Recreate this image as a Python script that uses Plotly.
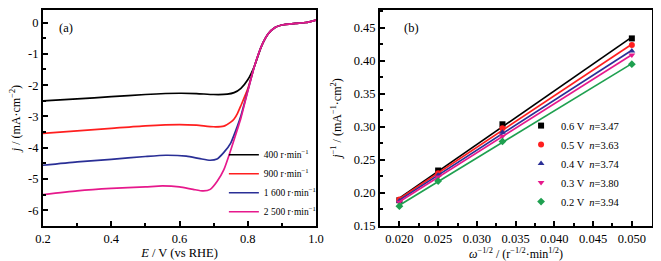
import numpy as np
import plotly.graph_objects as go

# ---------------- Panel (a): LSV curves ----------------
E_400 = [0.20, 0.30, 0.40, 0.50, 0.60, 0.65, 0.70, 0.74, 0.76, 0.78, 0.80, 0.82, 0.84, 0.86, 0.88, 0.90, 0.94, 0.97, 1.00]
j_400 = [-2.50, -2.44, -2.37, -2.30, -2.26, -2.27, -2.30, -2.29, -2.24, -2.10, -1.83, -1.38, -0.76, -0.36, -0.16, -0.08, -0.03, 0.00, 0.08]

E_900 = [0.20, 0.30, 0.40, 0.50, 0.60, 0.65, 0.70, 0.73, 0.75, 0.76, 0.77, 0.78, 0.80, 0.82, 0.84, 0.86, 0.88, 0.90, 0.94, 0.97, 1.00]
j_900 = [-3.54, -3.46, -3.38, -3.30, -3.26, -3.28, -3.33, -3.31, -3.18, -3.08, -2.90, -2.65, -2.12, -1.38, -0.76, -0.36, -0.16, -0.08, -0.03, 0.00, 0.08]

E_1600 = [0.20, 0.30, 0.40, 0.50, 0.56, 0.62, 0.66, 0.69, 0.71, 0.73, 0.75, 0.77, 0.78, 0.80, 0.82, 0.84, 0.86, 0.88, 0.90, 0.94, 0.97, 1.00]
j_1600 = [-4.56, -4.45, -4.37, -4.28, -4.24, -4.27, -4.35, -4.40, -4.36, -4.15, -3.85, -3.30, -2.98, -2.18, -1.38, -0.76, -0.36, -0.16, -0.08, -0.03, 0.00, 0.08]

E_2500 = [0.20, 0.30, 0.40, 0.50, 0.55, 0.60, 0.64, 0.67, 0.69, 0.71, 0.73, 0.75, 0.77, 0.78, 0.80, 0.82, 0.84, 0.86, 0.88, 0.90, 0.94, 0.97, 1.00]
j_2500 = [-5.50, -5.38, -5.30, -5.25, -5.22, -5.25, -5.33, -5.38, -5.33, -5.08, -4.70, -4.08, -3.40, -3.05, -2.20, -1.38, -0.76, -0.36, -0.16, -0.08, -0.03, 0.00, 0.08]

lsv_names = ["400 r·min<sup>−1</sup>", "900 r·min<sup>−1</sup>", "1 600 r·min<sup>−1</sup>", "2 500 r·min<sup>−1</sup>"]
lsv_colors = ["#000000", "#ff1f1f", "#2a2f96", "#e6198c"]

a_yticks = [0, -1, -2, -3, -4, -5, -6]
a_yticklabels = ["0", "-1", "-2", "-3", "-4", "-5", "-6"]

# ---------------- Panel (b): K-L plots ----------------
omega_inv_sqrt = [0.020, 0.025, 0.0333, 0.050]
kl_06 = [0.189, 0.234, 0.304, 0.434]
kl_05 = [0.190, 0.230, 0.298, 0.424]
kl_04 = [0.188, 0.227, 0.292, 0.415]
kl_03 = [0.186, 0.224, 0.286, 0.409]
kl_02 = [0.180, 0.218, 0.278, 0.395]
kl_names = ["0.6 V  <i>n</i>=3.47", "0.5 V  <i>n</i>=3.63", "0.4 V  <i>n</i>=3.74",
            "0.3 V  <i>n</i>=3.80", "0.2 V  <i>n</i>=3.94"]
kl_colors = ["#000000", "#ff1f1f", "#2a2f96", "#e6198c", "#1fa050"]
kl_symbols = ["square", "circle", "triangle-up", "triangle-down", "diamond"]

FONT = "Liberation Serif"

fig = go.Figure()

for E, j, name, col in zip([E_400, E_900, E_1600, E_2500], [j_400, j_900, j_1600, j_2500], lsv_names, lsv_colors):
    fig.add_trace(go.Scatter(x=E, y=j, mode="lines", name=name,
                             line=dict(color=col, width=1.7, shape="spline", smoothing=0.6),
                             xaxis="x", yaxis="y", legend="legend"))

xs = np.array(omega_inv_sqrt)
for vals, name, col, sym in zip([kl_06, kl_05, kl_04, kl_03, kl_02], kl_names, kl_colors, kl_symbols):
    k, b = np.polyfit(xs, np.array(vals), 1)
    fit_x = [xs.min(), xs.max()]
    fig.add_trace(go.Scatter(x=fit_x, y=[k * v + b for v in fit_x], mode="lines",
                             line=dict(color=col, width=1.7), showlegend=False,
                             xaxis="x2", yaxis="y2", hoverinfo="skip"))
    fig.add_trace(go.Scatter(x=omega_inv_sqrt, y=vals, mode="markers", name=name,
                             marker=dict(color=col, symbol=sym, size=6),
                             xaxis="x2", yaxis="y2", legend="legend2"))

axis_common = dict(showline=True, linewidth=2, linecolor="black", mirror=True,
                   ticks="inside", ticklen=5, tickwidth=1.5, tickcolor="black",
                   showgrid=False, zeroline=False, automargin=False,
                   tickfont=dict(family=FONT, size=12.5, color="black"))

# page body has an 8px margin, so the figure is 8px smaller than the window
fig.update_layout(
    width=653, height=253,
    margin=dict(l=35, r=9, t=2, b=35, autoexpand=False),
    paper_bgcolor="white", plot_bgcolor="white",
    font=dict(family=FONT, size=12, color="black"),
    xaxis=dict(domain=[0, 0.4483], range=[0.2, 1.0], tick0=0.2, dtick=0.2, tickformat=".1f",
               minor=dict(ticks="inside", dtick=0.1, ticklen=3, tickwidth=1.5, tickcolor="black"),
               title=dict(text="<i>E</i> / V (vs RHE)", font=dict(family=FONT, size=12.5), standoff=2),
               anchor="y", **axis_common),
    yaxis=dict(domain=[0, 1], range=[-6.5, 0.4], tickvals=a_yticks, ticktext=a_yticklabels,
               minor=dict(ticks="inside", dtick=0.5, ticklen=3, tickwidth=1.5, tickcolor="black"),
               title=dict(text="<i>j</i> / (mA·cm<sup>−2</sup>)", font=dict(family=FONT, size=12), standoff=6),
               anchor="x", **axis_common),
    xaxis2=dict(domain=[0.5534, 1], range=[0.0175, 0.0526], tick0=0.02, dtick=0.005, tickformat=".3f",
                minor=dict(ticks="inside", dtick=0.0025, ticklen=3, tickwidth=1.5, tickcolor="black"),
                title=dict(text="<i>ω</i><sup>−1/2</sup> / (r<sup>−1/2</sup>·min<sup>1/2</sup>)",
                           font=dict(family=FONT, size=12), standoff=4),
                anchor="y2", **axis_common),
    yaxis2=dict(domain=[0, 1], range=[0.15, 0.477], tick0=0.15, dtick=0.05, tickformat=".2f",
                minor=dict(ticks="inside", dtick=0.025, ticklen=3, tickwidth=1.5, tickcolor="black"),
                title=dict(text="<i>j</i><sup>−1</sup> / (mA<sup>−1</sup>·cm<sup>2</sup>)",
                           font=dict(family=FONT, size=12), standoff=9),
                anchor="x2", **axis_common),
    legend=dict(x=0.297, y=0.397, xanchor="left", yanchor="top", bgcolor="rgba(0,0,0,0)",
                font=dict(family=FONT, size=9.5, color="black"), tracegroupgap=0),
    legend2=dict(x=0.785, y=0.532, xanchor="left", yanchor="top", bgcolor="rgba(0,0,0,0)",
                 font=dict(family=FONT, size=10.5, color="black"), tracegroupgap=0),
    annotations=[
        dict(text="(a)", x=0.05, y=0.96, xref="x domain", yref="y domain", showarrow=False,
             xanchor="left", yanchor="top", font=dict(family=FONT, size=12.5)),
        dict(text="(b)", x=0.08, y=0.96, xref="x2 domain", yref="y2 domain", showarrow=False,
             xanchor="left", yanchor="top", font=dict(family=FONT, size=12.5)),
    ],
)

fig.write_html("out.html")
